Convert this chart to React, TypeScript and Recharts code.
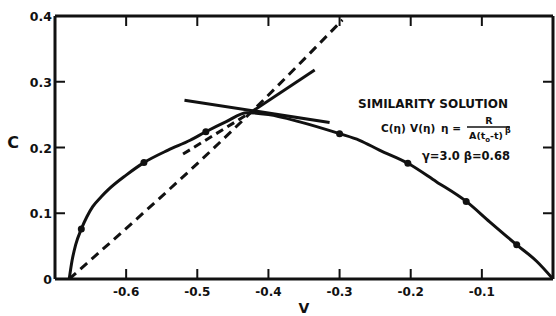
import { Line, LineChart, XAxis, YAxis } from "recharts";

// similarity solution C(V)
const curveV = [-0.68, -0.676, -0.671, -0.663, -0.655, -0.647, -0.635, -0.624, -0.6, -0.575, -0.541, -0.51, -0.488, -0.46, -0.43, -0.4, -0.356, -0.3, -0.272, -0.244, -0.204, -0.164, -0.122, -0.089, -0.051, -0.023, 0];
const curveC = [0, 0.028, 0.052, 0.076, 0.095, 0.11, 0.125, 0.137, 0.158, 0.177, 0.196, 0.211, 0.224, 0.239, 0.253, 0.25, 0.239, 0.221, 0.211, 0.196, 0.176, 0.148, 0.118, 0.087, 0.052, 0.027, 0];

// marked points on the curve
const markV = [-0.663, -0.575, -0.488, -0.3, -0.204, -0.122, -0.051];
const markC = [0.076, 0.177, 0.224, 0.221, 0.176, 0.118, 0.052];

// long dashed line from the foot of the curve
const sonicV = [-0.68, -0.424, -0.296];
const sonicC = [0, 0.254, 0.394];

// tangents through the singular point
const tanFlatV = [-0.518, -0.314];
const tanFlatC = [0.272, 0.238];
const tanSteepV = [-0.424, -0.335];
const tanSteepC = [0.254, 0.318];
const tanDashV = [-0.52, -0.424];
const tanDashC = [0.19, 0.254];

const xTicks = [-0.6, -0.5, -0.4, -0.3, -0.2, -0.1];
const yTicks = [0, 0.1, 0.2, 0.3, 0.4];

const INK = "#111";
const FONT = "'DejaVu Sans', Arial, sans-serif";

const pts = (v: number[], c: number[]) => v.map((x, i) => ({ v: x, c: c[i] }));

const inner = (v: number) => v > 0.001 && v < 0.399;

function BottomTick({ x, y, payload }: any) {
  return (
    <g>
      <line x1={x} x2={x} y1={y} y2={y - 10} stroke={INK} strokeWidth={2} />
      <text x={x} y={y + 17} textAnchor="middle" fontSize={12} fontWeight={700} fontFamily={FONT} fill={INK}>
        {payload.value.toFixed(1)}
      </text>
    </g>
  );
}

function TopTick({ x, y }: any) {
  return <line x1={x} x2={x} y1={y} y2={y + 10} stroke={INK} strokeWidth={2} />;
}

function LeftTick({ x, y, payload }: any) {
  const v = payload.value;
  return (
    <g>
      {inner(v) && <line x1={x} x2={x + 10} y1={y} y2={y} stroke={INK} strokeWidth={2} />}
      <text x={x - 3} y={y + 5} textAnchor="end" fontSize={12.5} fontWeight={700} fontFamily={FONT} fill={INK}>
        {v === 0 ? "0" : v.toFixed(1)}
      </text>
    </g>
  );
}

function RightTick({ x, y, payload }: any) {
  if (!inner(payload.value)) return <g />;
  return <line x1={x} x2={x - 10} y1={y} y2={y} stroke={INK} strokeWidth={2} />;
}

export default function App() {
  const lineProps = {
    xAxisId: "b",
    yAxisId: "l",
    dataKey: "c",
    type: "monotone" as const,
    stroke: INK,
    strokeWidth: 3,
    dot: false,
    isAnimationActive: false,
  };
  return (
    <div style={{ position: "absolute", left: 0, top: 0, width: 556, height: 316, background: "#fff" }}>
      <LineChart width={556} height={316} margin={{ top: 0, right: 0, bottom: 0, left: 0 }}>
        <XAxis
          xAxisId="b"
          type="number"
          dataKey="v"
          orientation="bottom"
          domain={[-0.7, 0]}
          ticks={xTicks}
          interval={0}
          allowDataOverflow
          height={37}
          tickSize={0}
          tickMargin={0}
          tickLine={false}
          axisLine={{ stroke: INK, strokeWidth: 3 }}
          tick={<BottomTick />}
          label={{
            content: ({ viewBox }: any) => (
              <text x={viewBox.x + viewBox.width / 2} y={viewBox.y + 34} textAnchor="middle" fontSize={14} fontWeight={700} fontFamily={FONT} fill={INK}>
                V
              </text>
            ),
          }}
        />
        <XAxis
          xAxisId="t"
          type="number"
          dataKey="v"
          orientation="top"
          domain={[-0.7, 0]}
          ticks={xTicks}
          interval={0}
          allowDataOverflow
          height={16}
          tickSize={0}
          tickMargin={0}
          tickLine={false}
          axisLine={{ stroke: INK, strokeWidth: 3 }}
          tick={<TopTick />}
        />
        <YAxis
          yAxisId="l"
          type="number"
          domain={[0, 0.4]}
          ticks={yTicks}
          interval={0}
          allowDataOverflow
          width={55}
          tickSize={0}
          tickMargin={0}
          tickLine={false}
          axisLine={{ stroke: INK, strokeWidth: 3 }}
          tick={<LeftTick />}
          label={{
            content: ({ viewBox }: any) => (
              <text x={viewBox.x + 13} y={viewBox.y + viewBox.height / 2} textAnchor="middle" fontSize={16} fontWeight={700} fontFamily={FONT} fill={INK}>
                C
              </text>
            ),
          }}
        />
        <YAxis
          yAxisId="r"
          type="number"
          orientation="right"
          domain={[0, 0.4]}
          ticks={yTicks}
          interval={0}
          allowDataOverflow
          width={3}
          tickSize={0}
          tickMargin={0}
          tickLine={false}
          axisLine={{ stroke: INK, strokeWidth: 3 }}
          tick={<RightTick />}
        />
        <Line {...lineProps} data={pts(sonicV, sonicC)} strokeDasharray="9 6" />
        <Line {...lineProps} data={pts(tanDashV, tanDashC)} type="linear" strokeDasharray="8 5" />
        <Line {...lineProps} data={pts(tanFlatV, tanFlatC)} type="linear" />
        <Line {...lineProps} data={pts(tanSteepV, tanSteepC)} type="linear" />
        <Line {...lineProps} data={pts(curveV, curveC)} />
        <Line
          {...lineProps}
          data={pts(markV, markC)}
          type="linear"
          strokeWidth={0}
          stroke="none"
          dot={{ r: 3.5, fill: INK, stroke: "none" }}
        />
      </LineChart>
      <svg width={556} height={316} style={{ position: "absolute", left: 0, top: 0, pointerEvents: "none" }}>
        <g fontFamily={FONT} fontWeight={700} fill={INK}>
          <text x={508} y={108} textAnchor="end" fontSize={12}>
            SIMILARITY SOLUTION
          </text>
          <text y={132} fontSize={10.5}>
            <tspan x={381}>C(η)</tspan>
            <tspan x={410}>V(η)</tspan>
            <tspan x={441}>η =</tspan>
          </text>
          <text x={489} y={124} textAnchor="middle" fontSize={9.5}>
            R
          </text>
          <line x1={467} x2={510} y1={127} y2={127} stroke={INK} strokeWidth={1.5} />
          <text x={486} y={139} textAnchor="middle" fontSize={9.5}>
            A(t<tspan fontSize={7} dy={3}>o</tspan><tspan dy={-3}>-t)</tspan>
          </text>
          <text x={505} y={133} fontSize={8}>
            β
          </text>
          <text x={510} y={160} textAnchor="end" fontSize={11.5}>
            γ=3.0 β=0.68
          </text>
        </g>
      </svg>
    </div>
  );
}
